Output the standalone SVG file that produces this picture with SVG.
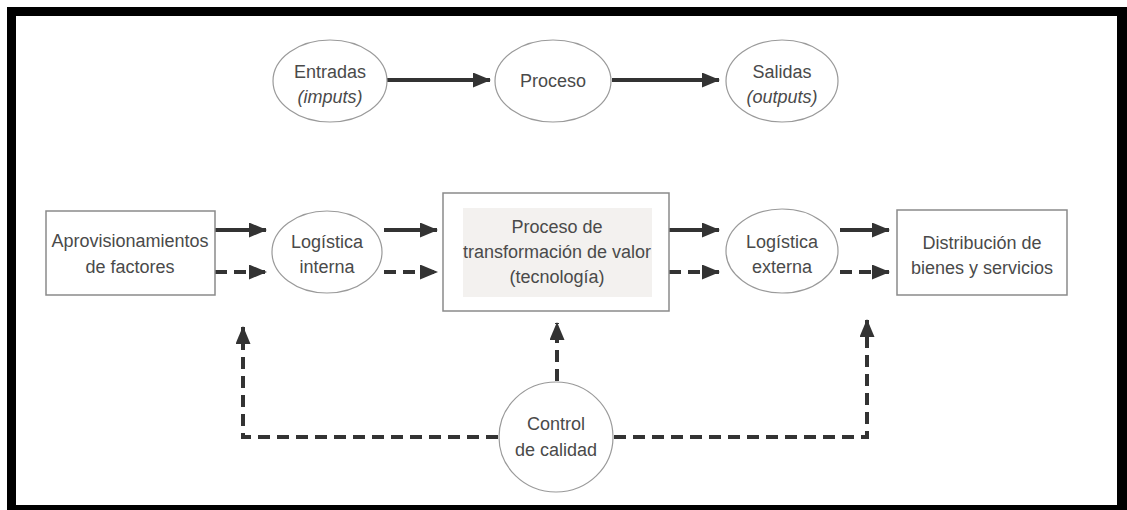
<svg xmlns="http://www.w3.org/2000/svg" width="1127" height="510" viewBox="0 0 1127 510">
<style>
.lbl{font-family:"Liberation Sans",Arial,sans-serif;font-size:18px;fill:#4a4a4a;text-anchor:middle}
.it{font-style:italic}
.ell{fill:#ffffff;stroke:#9a9a9a;stroke-width:1.2}
.box{fill:#ffffff;stroke:#8a8a8a;stroke-width:1.5}
.con{fill:none;stroke:#333333;stroke-width:4}
.dash{stroke-dasharray:12 7}
</style>
<defs>
<marker id="ah" markerUnits="userSpaceOnUse" markerWidth="18" markerHeight="16" refX="17" refY="7.5" orient="auto">
<path d="M0,0 L18,7.5 L0,15 z" fill="#333333"/>
</marker>
</defs>
<rect x="7" y="7" width="1120" height="503" fill="#000000"/>
<rect x="16" y="16" width="1101" height="489" fill="#ffffff"/>

<g id="connectors">
<line class="con" x1="387" y1="80" x2="490" y2="80" marker-end="url(#ah)"/>
<line class="con" x1="612" y1="80" x2="719" y2="80" marker-end="url(#ah)"/>
<line class="con" x1="215" y1="230" x2="266" y2="230" marker-end="url(#ah)"/>
<line class="con dash" x1="215" y1="272" x2="266" y2="272" marker-end="url(#ah)"/>
<line class="con" x1="384" y1="230" x2="437" y2="230" marker-end="url(#ah)"/>
<line class="con dash" x1="384" y1="272" x2="437" y2="272" marker-end="url(#ah)"/>
<line class="con" x1="669" y1="230" x2="719" y2="230" marker-end="url(#ah)"/>
<line class="con dash" x1="669" y1="272" x2="719" y2="272" marker-end="url(#ah)"/>
<line class="con" x1="840" y1="230" x2="889" y2="230" marker-end="url(#ah)"/>
<line class="con dash" x1="840" y1="272" x2="889" y2="272" marker-end="url(#ah)"/>
<path class="con dash" d="M498,437 H243 V327" marker-end="url(#ah)"/>
<path class="con dash" d="M614,437 H867 V320" marker-end="url(#ah)"/>
<line class="con dash" x1="557" y1="381" x2="557" y2="323" marker-end="url(#ah)"/>
</g>

<g id="entradas">
<ellipse class="ell" cx="330" cy="81" rx="57" ry="41"/>
<text class="lbl" x="330" y="78">Entradas</text>
<text class="lbl it" x="330" y="103">(imputs)</text>
</g>
<g id="proceso">
<ellipse class="ell" cx="553" cy="81" rx="58" ry="41"/>
<text class="lbl" x="553" y="87">Proceso</text>
</g>
<g id="salidas">
<ellipse class="ell" cx="782" cy="81" rx="56" ry="41"/>
<text class="lbl" x="782" y="78">Salidas</text>
<text class="lbl it" x="782" y="103">(outputs)</text>
</g>

<g id="aprovisionamientos">
<rect class="box" x="46" y="211" width="169" height="84"/>
<text class="lbl" x="130" y="247">Aprovisionamientos</text>
<text class="lbl" x="130" y="273">de factores</text>
</g>
<g id="logistica-interna">
<ellipse class="ell" cx="327" cy="252" rx="55" ry="41"/>
<text class="lbl" x="327" y="248">Logística</text>
<text class="lbl" x="327" y="273">interna</text>
</g>
<g id="transformacion">
<rect class="box" x="443" y="193" width="226" height="118"/>
<rect x="463" y="208" width="189" height="89" fill="#f3f1ef"/>
<text class="lbl" x="557" y="233">Proceso de</text>
<text class="lbl" x="557" y="258">transformación de valor</text>
<text class="lbl" x="557" y="283">(tecnología)</text>
</g>
<g id="logistica-externa">
<ellipse class="ell" cx="782" cy="251" rx="56" ry="42"/>
<text class="lbl" x="782" y="248">Logística</text>
<text class="lbl" x="782" y="273">externa</text>
</g>
<g id="distribucion">
<rect class="box" x="897" y="210" width="170" height="85"/>
<text class="lbl" x="982" y="249">Distribución de</text>
<text class="lbl" x="982" y="274">bienes y servicios</text>
</g>
<g id="control">
<ellipse class="ell" cx="556" cy="437" rx="57" ry="55"/>
<text class="lbl" x="556" y="430">Control</text>
<text class="lbl" x="556" y="456">de calidad</text>
</g>
</svg>
